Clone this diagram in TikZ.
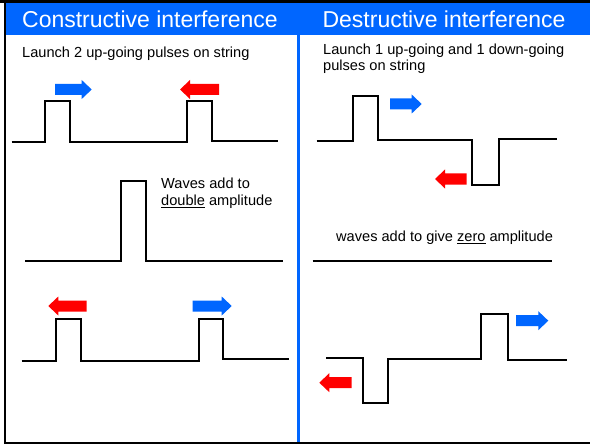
\documentclass[tikz,border=0pt]{standalone}
\usepackage{fontspec}
\setmainfont{Liberation Sans}
\definecolor{bannerblue}{RGB}{0,102,255}
\definecolor{pulsered}{RGB}{255,0,0}
\definecolor{pulseblue}{RGB}{0,102,255}

% underlined word with a thin rule just below the baseline
\newsavebox\ulbox
\newcommand\ulword[1]{\sbox\ulbox{#1}\rlap{\rule[-2pt]{\wd\ulbox}{0.9pt}}\usebox\ulbox}

% block arrows: tail x, tip x, centre y, colour
\newcommand\arrowR[4]{\fill[#4] (#1,#3-5.5) -- (#2-10,#3-5.5) -- (#2-10,#3-9.5) -- (#2,#3)
  -- (#2-10,#3+9.5) -- (#2-10,#3+5.5) -- (#1,#3+5.5) -- cycle;}
\newcommand\arrowL[4]{\fill[#4] (#1,#3-5.5) -- (#2+10,#3-5.5) -- (#2+10,#3-9.5) -- (#2,#3)
  -- (#2+10,#3+9.5) -- (#2+10,#3+5.5) -- (#1,#3+5.5) -- cycle;}

\tikzset{
  string/.style={line width=2pt, line join=miter, black},
  title/.style={text=white, anchor=base, inner sep=0pt, font=\fontsize{23}{27}\selectfont},
  body/.style={anchor=base west, inner sep=0pt, align=left, font=\fontsize{14.6}{17}\selectfont},
}

\begin{document}
\begin{tikzpicture}[x=1pt, y=-1pt]
\useasboundingbox (0,0) rectangle (590,444);
\fill[white] (0,0) rectangle (590,444);

% frame and banner
\fill[bannerblue] (4,3.5) rectangle (590,35);
\fill[black] (0,0) rectangle (590,3.5);
\fill[black] (4,0) rectangle (6,444);
\fill[black] (4,442) rectangle (590,444);
\fill[bannerblue] (296.5,35) rectangle (300,442);

\node[title] (t1) at (150,28) {Constructive interference};
\node[title] (t2) at (444,28) {Destructive interference};

% ---- constructive ----
\node[body] (c1) at (22,58) {Launch 2 up-going pulses on string};
\draw[string] (11.7,141.7) -- (45,141.7) -- (45,100.7) -- (70,100.7) -- (70,141.7)
  -- (186.7,141.7) -- (186.7,100.7) -- (211.7,100.7) -- (211.7,140.7) -- (277.7,140.7);
\arrowR{55}{91.7}{89.5}{pulseblue}
\arrowL{219}{180}{89.5}{pulsered}

% multi-line nodes sit on the baseline of their last line
\node[body] (c2) at (161,205.5) {Waves add to\\\ulword{double} amplitude};
\draw[string] (25,260.7) -- (120.7,260.7) -- (120.7,180.7) -- (146,180.7) -- (146,260.7) -- (283.3,260.7);

\draw[string] (21.7,360.7) -- (56,360.7) -- (56,319.3) -- (81,319.3) -- (81,360.7)
  -- (199,360.7) -- (199,319.3) -- (223.3,319.3) -- (223.3,359.3) -- (289.3,359.3);
\arrowL{86.7}{48.3}{306}{pulsered}
\arrowR{192.7}{231.7}{306}{pulseblue}

% ---- destructive ----
\node[body] (d1) at (323,71) {Launch 1 up-going and 1 down-going\\pulses on string};
\draw[string] (316.7,140.7) -- (353.3,140.7) -- (353.3,95.7) -- (378.3,95.7) -- (378.3,140)
  -- (471.7,140) -- (471.7,185) -- (499,185) -- (499,138.7) -- (556.7,138.7);
\arrowR{390}{421.7}{104}{pulseblue}
\arrowL{466.7}{435}{179}{pulsered}

\node[body] (d2) at (336,241.5) {waves add to give \ulword{zero} amplitude};
\draw[string] (312.7,260.7) -- (552.3,260.7);

\draw[string] (326,358.3) -- (363.3,358.3) -- (363.3,402.7) -- (388.3,402.7) -- (388.3,359)
  -- (481,359) -- (481,314.3) -- (508.3,314.3) -- (508.3,360) -- (566.7,360);
\arrowR{516}{548.3}{320.7}{pulseblue}
\arrowL{351.7}{319.3}{382.7}{pulsered}
\end{tikzpicture}
\end{document}
